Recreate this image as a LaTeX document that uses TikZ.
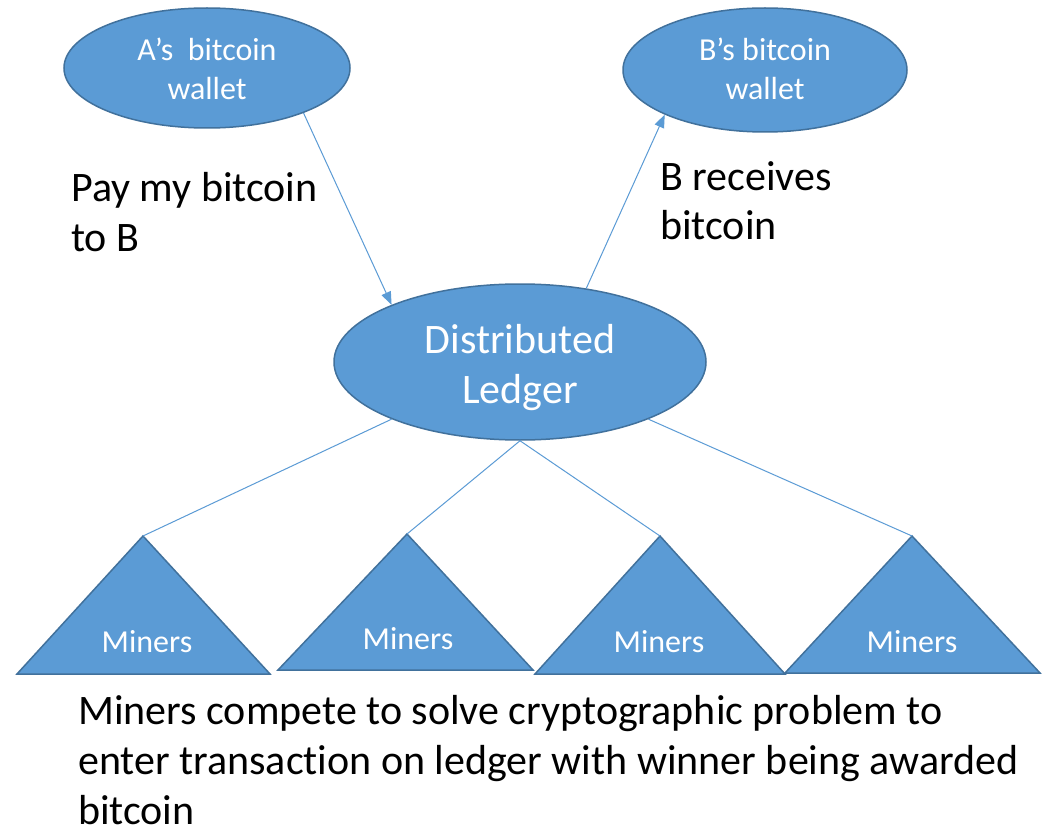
\documentclass[tikz,border=0pt]{standalone}
\usepackage{fontspec}
\setmainfont[Ligatures=NoCommon]{Carlito}
\usetikzlibrary{shapes.geometric,arrows.meta}
\definecolor{fillblue}{HTML}{5B9BD5}
\definecolor{edgeblue}{HTML}{41719C}
\begin{document}
\begin{tikzpicture}[x=1pt,y=-1pt,
  bubble/.style={ellipse,fill=fillblue,draw=edgeblue,line width=1.5pt,inner sep=0pt,text=white,align=center},
  smalltxt/.style={font=\fontsize{32}{39}\selectfont},
  bigtxt/.style={font=\fontsize{42}{50}\selectfont},
  link/.style={draw=fillblue,line width=1pt},
  arrowlink/.style={link,-{Triangle[length=13pt,width=10pt]}},
  miner/.style={fill=fillblue,draw=edgeblue,line width=1.5pt,line join=miter},
  minerlabel/.style={text=white,font=\fontsize{32}{39}\selectfont,anchor=base,inner sep=0pt},
  sidetext/.style={align=left,anchor=base west,inner sep=0pt,font=\fontsize{42}{50}\selectfont}
]
\useasboundingbox (0,0) rectangle (1042,832);
\fill[white] (0,0) rectangle (1042,832);

% ellipses
\node[bubble,smalltxt,minimum width=286pt,minimum height=120pt,text height=72pt,text depth=8pt] (A) at (207,68) {A’s\ \ bitcoin\\wallet};
\node[bubble,smalltxt,minimum width=284pt,minimum height=124pt,text height=68pt,text depth=8pt] (B) at (765,70) {B’s bitcoin\\wallet};
\node[bubble,bigtxt,minimum width=372pt,minimum height=156pt,text height=92pt,text depth=10pt] (L) at (520,362) {Distributed\\Ledger};

% arrows
\draw[arrowlink] (A.335) -- (L.156);
\draw[arrowlink] (L.48) -- (B.204);

% triangles
\coordinate (t1) at (143,536);
\coordinate (t2) at (407,534);
\coordinate (t3) at (660,536);
\coordinate (t4) at (912,536);
\path[miner] (17,674) -- (t1) -- (270,674) -- cycle;
\path[miner] (278,670) -- (t2) -- (533,670) -- cycle;
\path[miner] (535,674) -- (t3) -- (785,674) -- cycle;
\path[miner] (785,673) -- (t4) -- (1040,673) -- cycle;

\node[minerlabel] (m1) at (147,652) {Miners};
\node[minerlabel] (m2) at (408,649) {Miners};
\node[minerlabel] (m3) at (659,652) {Miners};
\node[minerlabel] (m4) at (912,652) {Miners};

% connectors ledger -> miners
\draw[link] (L.204) -- (t1);
\draw[link] (L.south) -- (t2);
\draw[link] (L.south) -- (t3);
\draw[link] (L.336) -- (t4);

% text (anchored at the baseline of the last line)
\node[sidetext] (pay) at (71,251) {Pay my bitcoin\\to B};
\node[sidetext] (rec) at (660,240) {B receives\\bitcoin};
\node[sidetext] (note) at (78,824) {Miners compete to solve cryptographic problem to\\enter transaction on ledger with winner being awarded\\bitcoin};
\end{tikzpicture}
\end{document}
